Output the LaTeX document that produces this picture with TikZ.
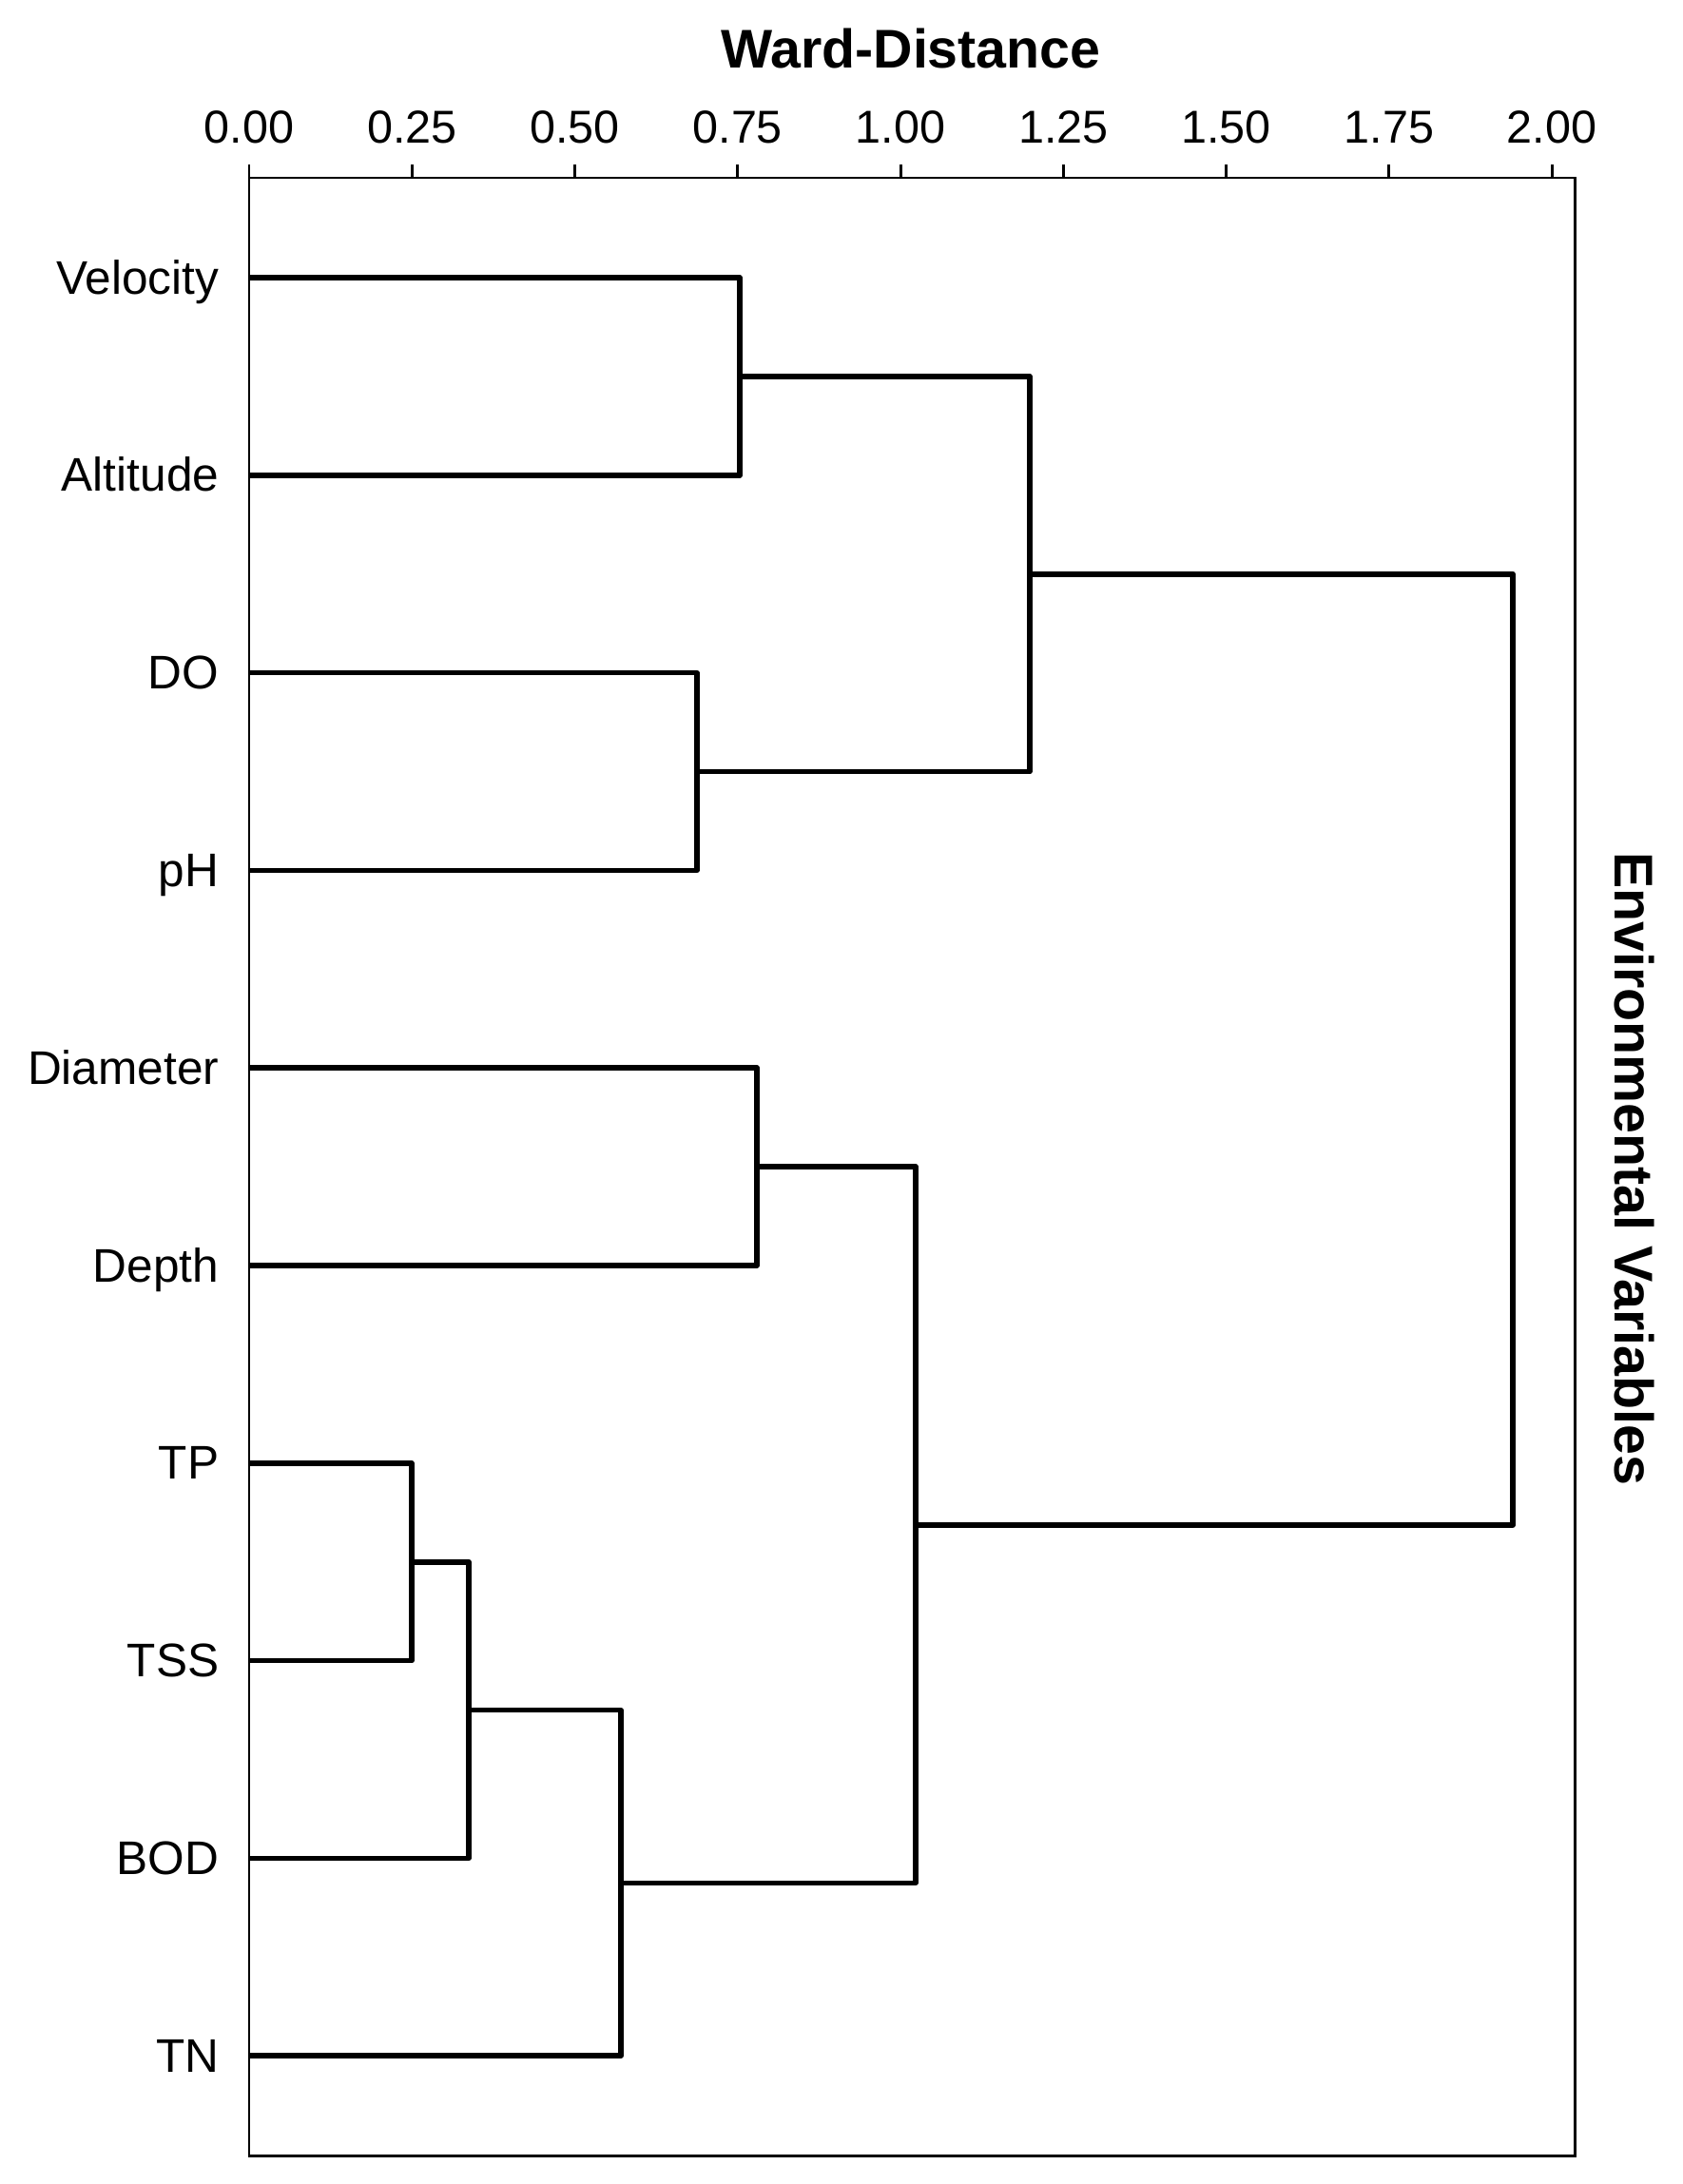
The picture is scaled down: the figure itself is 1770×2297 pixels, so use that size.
\documentclass[tikz,border=0pt]{standalone}
\usepackage{fontspec}
\setmainfont{Liberation Sans}

\tikzset{
  frame/.style={line width=0.85pt},
  branch/.style={line width=1.6pt, line join=round},
  leaf/.style={anchor=base east, inner sep=0pt, font=\fontsize{14.1}{16}\selectfont},
  ticklab/.style={anchor=base, inner sep=0pt, font=\fontsize{13.8}{16}\selectfont},
  axistitle/.style={inner sep=0pt, font=\bfseries\fontsize{16.3}{19}\selectfont}
}

\begin{document}
\begin{tikzpicture}[x=0.01cm,y=-0.01cm]
                        \useasboundingbox (0,0) rectangle (1770,2297);
                        \draw[frame] (262,187) rectangle (1656,2267);
                        % axis on top
                        \draw[frame] (262.00,173) -- (262.00,187);  \node[ticklab] (t000) at (262.00,150) {0.00};
                        \draw[frame] (433.25,173) -- (433.25,187);  \node[ticklab] (t025) at (433.25,150) {0.25};
                        \draw[frame] (604.50,173) -- (604.50,187);  \node[ticklab] (t050) at (604.50,150) {0.50};
                        \draw[frame] (775.75,173) -- (775.75,187);  \node[ticklab] (t075) at (775.75,150) {0.75};
                        \draw[frame] (947.00,173) -- (947.00,187);  \node[ticklab] (t100) at (947.00,150) {1.00};
                        \draw[frame] (1118.25,173) -- (1118.25,187); \node[ticklab] (t125) at (1118.25,150) {1.25};
                        \draw[frame] (1289.50,173) -- (1289.50,187); \node[ticklab] (t150) at (1289.50,150) {1.50};
                        \draw[frame] (1460.75,173) -- (1460.75,187); \node[ticklab] (t175) at (1460.75,150) {1.75};
                        \draw[frame] (1632.00,173) -- (1632.00,187); \node[ticklab] (t200) at (1632.00,150) {2.00};
                        \node[axistitle, anchor=base] (xtitle) at (958,72) {Ward-Distance};
                        \node[axistitle, anchor=base, rotate=-90] (ytitle) at (1698,1229) {Environmental Variables};
                        % leaves
                        \coordinate (Lvel)   at (262, 292.0);  \node[leaf] (nvel)   at (231, 309.0) {Velocity};
                        \coordinate (Lalt)   at (262, 499.8);  \node[leaf] (nalt)   at (231, 516.8) {Altitude};
                        \coordinate (Ldo)    at (262, 707.6);  \node[leaf] (ndo)    at (231, 724.6) {DO};
                        \coordinate (Lph)    at (262, 915.4);  \node[leaf] (nph)    at (231, 932.4) {pH};
                        \coordinate (Ldiam)  at (262,1123.2);  \node[leaf] (ndiam)  at (231,1140.2) {Diameter};
                        \coordinate (Ldepth) at (262,1331.0);  \node[leaf] (ndepth) at (231,1348.0) {Depth};
                        \coordinate (Ltp)    at (262,1538.8);  \node[leaf] (ntp)    at (231,1555.8) {TP};
                        \coordinate (Ltss)   at (262,1746.6);  \node[leaf] (ntss)   at (231,1763.6) {TSS};
                        \coordinate (Lbod)   at (262,1954.4);  \node[leaf] (nbod)   at (231,1971.4) {BOD};
                        \coordinate (Ltn)    at (262,2162.2);  \node[leaf] (ntn)    at (231,2179.2) {TN};
                        % merges
                        \coordinate (mVA)   at ( 778, 395.9);
                        \coordinate (mDP)   at ( 733, 811.5);
                        \coordinate (mTop)  at (1083, 603.7);
                        \coordinate (mDD)   at ( 796,1227.1);
                        \coordinate (mTT)   at ( 433,1642.7);
                        \coordinate (mTB)   at ( 493,1798.6);
                        \coordinate (mTN)   at ( 653,1980.4);
                        \coordinate (mLow)  at ( 963,1603.7);
                        \coordinate (mRoot) at (1591,1103.7);
                        \draw[branch] (Lvel)  -| (mVA)   |- (Lalt);
                        \draw[branch] (Ldo)   -| (mDP)   |- (Lph);
                        \draw[branch] (mVA)   -| (mTop)  |- (mDP);
                        \draw[branch] (Ldiam) -| (mDD)   |- (Ldepth);
                        \draw[branch] (Ltp)   -| (mTT)   |- (Ltss);
                        \draw[branch] (mTT)   -| (mTB)   |- (Lbod);
                        \draw[branch] (mTB)   -| (mTN)   |- (Ltn);
                        \draw[branch] (mDD)   -| (mLow)  |- (mTN);
                        \draw[branch] (mTop)  -| (mRoot) |- (mLow);
\end{tikzpicture}
\end{document}
